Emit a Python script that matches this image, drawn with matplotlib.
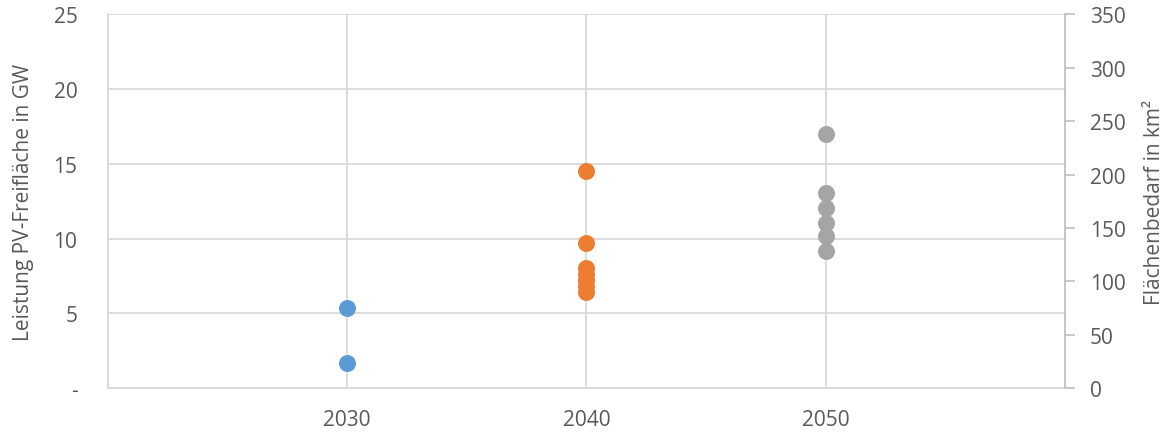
import matplotlib.pyplot as plt

# Leistung PV-Freiflaeche je Szenario und Stichjahr (GW)
years = [2030, 2040, 2050]
gw_2030 = [5.33, 1.64]
gw_2040 = [14.53, 9.73, 8.05, 7.6, 7.2, 6.8, 6.4]
gw_2050 = [16.99, 13.08, 12.08, 11.07, 10.18, 9.17]
colors = ['#5B9BD5', '#ED7D31', '#A5A5A5']

left_ticks = [0, 5, 10, 15, 20, 25]
left_labels = ['-', '5', '10', '15', '20', '25']
right_ticks = [0, 50, 100, 150, 200, 250, 300, 350]

plt.rcParams['font.family'] = ['Open Sans', 'DejaVu Sans']
text_col = '#595959'
grid_col = '#D9D9D9'
fs = 15

fig = plt.figure(figsize=(11.66, 4.39), dpi=100)
ax = fig.add_axes([0.0926, 0.1139, 0.8208, 0.8508])

for yr, vals, c in zip(years, [gw_2030, gw_2040, gw_2050], colors):
    ax.scatter([yr] * len(vals), vals, s=150, color=c, zorder=3, linewidths=0)

ax.set_xlim(2020, 2060)
ax.set_ylim(0, 25)
ax.set_xticks(years)
ax.set_yticks(left_ticks)
ax.set_yticklabels(left_labels)
ax.grid(True, color=grid_col, linewidth=1.3, zorder=0)
ax.set_axisbelow(True)
ax.tick_params(axis='both', length=0, labelsize=fs, colors=text_col)
ax.tick_params(axis='x', pad=15)
ax.tick_params(axis='y', pad=22)
ax.set_ylabel('Leistung PV-Freifläche in GW', fontsize=fs, color=text_col, labelpad=14)

for side in ['top', 'right']:
    ax.spines[side].set_visible(False)
ax.spines['left'].set_color(grid_col)
ax.spines['bottom'].set_color(grid_col)
ax.spines['left'].set_linewidth(1.3)
ax.spines['bottom'].set_linewidth(1.3)

# zweite Achse: Flaechenbedarf
ax2 = ax.twinx()
ax2.set_ylim(0, 350)
ax2.set_yticks(right_ticks)
ax2.tick_params(axis='y', length=7, width=1.2, color='#BFBFBF', labelsize=fs,
                labelcolor=text_col, pad=11)
ax2.set_ylabel('Flächenbedarf in km²', fontsize=fs, color=text_col, labelpad=13)
for side in ['top', 'left', 'bottom']:
    ax2.spines[side].set_visible(False)
ax2.spines['right'].set_color('#BFBFBF')
ax2.spines['right'].set_linewidth(1.3)

fig.savefig('out.png', dpi=100)
